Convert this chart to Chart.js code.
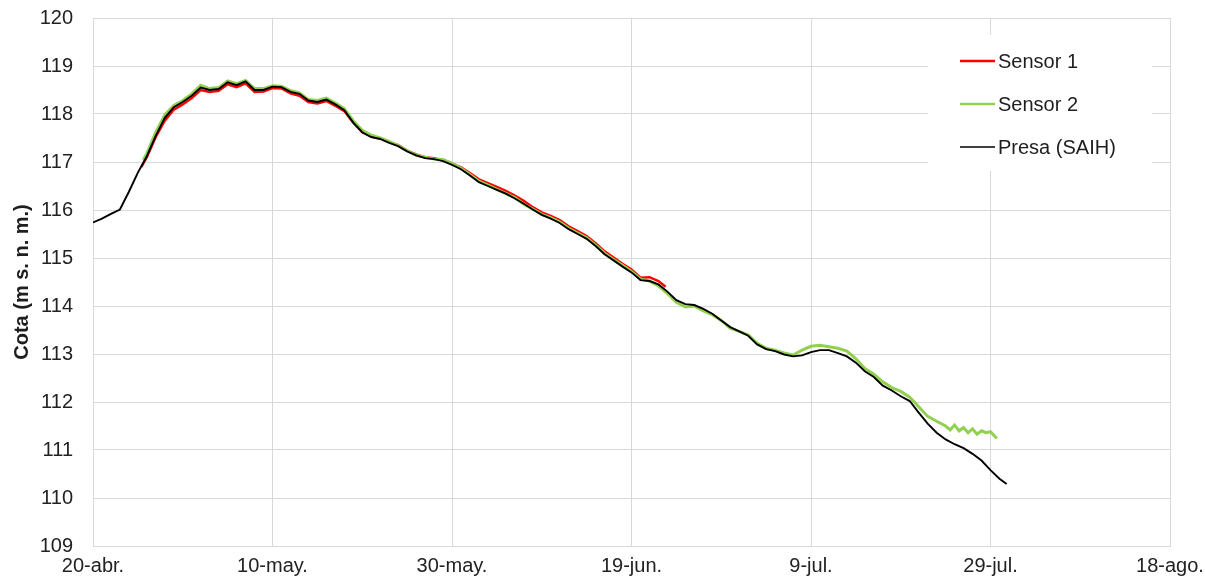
<!DOCTYPE html>
<html>
<head>
<meta charset="utf-8">
<script src="https://cdn.jsdelivr.net/npm/chart.js@4.4.0/dist/chart.umd.min.js"></script>
<style>
    html, body { margin: 0; padding: 0; background: #fff; }
    #wrap { width: 1205px; height: 584px; position: relative; }
</style>
</head>
<body>
<div id="wrap"><canvas id="cotaChart"></canvas></div>
<script>
// ===== DATA =====
// x = days since 20-abr.
const xTickDays = [0, 20, 40, 60, 80, 100, 120];
const xTickLabels = ['20-abr.', '10-may.', '30-may.', '19-jun.', '9-jul.', '29-jul.', '18-ago.'];

const presaDays = [0, 1, 2, 3, 4, 5, 6, 7, 8, 9, 10, 11, 12, 13, 14, 15, 16, 17, 18, 19,
    20, 21, 22, 23, 24, 25, 26, 27, 28, 29, 30, 31, 32, 33, 34, 35, 36, 37, 38, 39,
    40, 41, 42, 43, 44, 45, 46, 47, 48, 49, 50, 51, 52, 53, 54, 55, 56, 57, 58, 59,
    60, 61, 62, 63, 64, 65, 66, 67, 68, 69, 70, 71, 72, 73, 74, 75, 76, 77, 78, 79,
    80, 81, 82, 83, 84, 85, 86, 87, 88, 89, 90, 91, 92, 93, 94, 95, 96, 97, 98, 99,
    100, 101, 101.8];
const presaCota = [115.74, 115.82, 115.92, 116.01, 116.38, 116.78, 117.12, 117.55, 117.92, 118.14,
    118.25, 118.38, 118.55, 118.50, 118.52, 118.66, 118.60, 118.68, 118.50, 118.50,
    118.57, 118.56, 118.46, 118.42, 118.28, 118.25, 118.30, 118.20, 118.08, 117.82,
    117.62, 117.52, 117.48, 117.40, 117.33, 117.22, 117.14, 117.08, 117.06, 117.02,
    116.94, 116.85, 116.72, 116.58, 116.50, 116.42, 116.34, 116.24, 116.13, 116.01,
    115.90, 115.82, 115.73, 115.60, 115.50, 115.40, 115.25, 115.08, 114.95, 114.82,
    114.70, 114.54, 114.52, 114.45, 114.30, 114.12, 114.04, 114.02, 113.94, 113.84,
    113.70, 113.56, 113.47, 113.38, 113.20, 113.10, 113.06, 112.99, 112.95, 112.97,
    113.04, 113.08, 113.08, 113.02, 112.95, 112.82, 112.64, 112.52, 112.34, 112.24,
    112.12, 112.02, 111.78, 111.55, 111.36, 111.22, 111.12, 111.04, 110.92, 110.78,
    110.58, 110.40, 110.29];

const sensor1Days = [5.4, 6, 7, 8, 9, 10, 11, 12, 13, 14, 15, 16, 17, 18, 19,
    20, 21, 22, 23, 24, 25, 26, 27, 28, 29, 30, 31, 32, 33, 34, 35, 36, 37, 38, 39,
    40, 41, 42, 43, 44, 45, 46, 47, 48, 49, 50, 51, 52, 53, 54, 55, 56, 57, 58, 59,
    60, 61, 62, 63, 63.8];
const sensor1Cota = [116.90, 117.10, 117.52, 117.86, 118.09, 118.20, 118.33, 118.50, 118.46, 118.48,
    118.62, 118.56, 118.64, 118.46, 118.47,
    118.54, 118.53, 118.43, 118.38, 118.25, 118.22, 118.27, 118.17, 118.06, 117.82,
    117.62, 117.53, 117.49, 117.42, 117.35, 117.24, 117.16, 117.10, 117.08, 117.04,
    116.97, 116.89, 116.77, 116.64, 116.56, 116.48, 116.40, 116.30, 116.19, 116.06,
    115.95, 115.88, 115.79, 115.66, 115.56, 115.46, 115.31, 115.14, 115.01, 114.88,
    114.76, 114.59, 114.60, 114.52, 114.40];

const sensor2Days = [5.6, 6, 7, 8, 9, 10, 11, 12, 13, 14, 15, 16, 17, 18, 19,
    20, 21, 22, 23, 24, 25, 26, 27, 28, 29, 30, 31, 32, 33, 34, 35, 36, 37, 38, 39,
    40, 41, 42, 43, 44, 45, 46, 47, 48, 49, 50, 51, 52, 53, 54, 55, 56, 57, 58, 59,
    60, 61, 62, 63, 64, 65, 66, 67, 68, 69, 70, 71, 72, 73, 74, 75, 76, 77, 78, 79,
    80, 81, 82, 83, 84, 85, 86, 87, 88, 89, 90, 91, 92, 93, 94, 95,
    95.5, 96, 96.5, 97, 97.5, 98, 98.5, 99, 99.5, 100, 100.7];
const sensor2Cota = [117.04, 117.18, 117.62, 117.98, 118.18, 118.28, 118.42, 118.60, 118.53, 118.55,
    118.69, 118.63, 118.70, 118.53, 118.53,
    118.59, 118.58, 118.49, 118.44, 118.30, 118.28, 118.33, 118.23, 118.11, 117.86,
    117.66, 117.56, 117.50, 117.43, 117.34, 117.24, 117.14, 117.10, 117.06, 117.05,
    116.97, 116.87, 116.74, 116.60, 116.52, 116.43, 116.34, 116.26, 116.12, 116.02,
    115.91, 115.84, 115.75, 115.62, 115.52, 115.42, 115.27, 115.10, 114.97, 114.85,
    114.72, 114.56, 114.52, 114.42, 114.26, 114.08, 113.98, 114.00, 113.90, 113.82,
    113.70, 113.54, 113.47, 113.40, 113.22, 113.12, 113.08, 113.02, 112.98, 113.08,
    113.16, 113.18, 113.15, 113.12, 113.06, 112.90, 112.70, 112.58, 112.42, 112.30,
    112.22, 112.10, 111.90, 111.70, 111.60, 111.50,
    111.42, 111.52, 111.40, 111.47, 111.36, 111.44, 111.33, 111.40, 111.36, 111.38, 111.24];

function toPoints(days, values) {
    return days.map((d, i) => ({ x: d, y: values[i] }));
}

// ===== LEGEND INSIDE PLOT =====
const insideLegend = {
    id: 'insideLegend',
    afterDatasetsDraw(chart) {
        const { ctx, chartArea } = chart;
        const right = chartArea.right;
        const top = chartArea.top;
        ctx.save();
        ctx.fillStyle = '#ffffff';
        ctx.fillRect(right - 242, top + 17, 224, 136);
        const rows = [
            { label: 'Sensor 1', color: '#ff0000', width: 2.5 },
            { label: 'Sensor 2', color: '#92d050', width: 2.5 },
            { label: 'Presa (SAIH)', color: '#000000', width: 1.5 }
        ];
        ctx.font = '20px "Liberation Sans", Arial, sans-serif';
        ctx.textBaseline = 'middle';
        ctx.textAlign = 'left';
        rows.forEach((r, i) => {
            const y = top + 43 + i * 43;
            ctx.strokeStyle = r.color;
            ctx.lineWidth = r.width;
            ctx.beginPath();
            ctx.moveTo(right - 210, y);
            ctx.lineTo(right - 175, y);
            ctx.stroke();
            ctx.fillStyle = '#1e1e1e';
            ctx.fillText(r.label, right - 172, y + 1);
        });
        ctx.restore();
    }
};

// ===== CHART =====
const tickFont = { size: 20, family: '"Liberation Sans", Arial, sans-serif' };
const gridColor = '#d9d9d9';

new Chart(document.getElementById('cotaChart'), {
    type: 'line',
    data: {
        datasets: [
            {
                label: 'Sensor 1',
                data: toPoints(sensor1Days, sensor1Cota),
                borderColor: '#ff0000',
                borderWidth: 2.4,
                pointRadius: 0,
                tension: 0,
                order: 3
            },
            {
                label: 'Sensor 2',
                data: toPoints(sensor2Days, sensor2Cota),
                borderColor: '#92d050',
                borderWidth: 3,
                pointRadius: 0,
                tension: 0,
                order: 2
            },
            {
                label: 'Presa (SAIH)',
                data: toPoints(presaDays, presaCota),
                borderColor: '#000000',
                borderWidth: 1.9,
                pointRadius: 0,
                tension: 0,
                order: 1
            }
        ]
    },
    options: {
        responsive: true,
        maintainAspectRatio: false,
        animation: false,
        layout: { padding: { top: 18, right: 35, left: 0, bottom: 0 } },
        plugins: {
            legend: { display: false },
            tooltip: { enabled: false }
        },
        scales: {
            x: {
                type: 'linear',
                min: 0,
                max: 120,
                afterBuildTicks(scale) {
                    scale.ticks = xTickDays.map(v => ({ value: v }));
                },
                afterFit(scale) {
                    scale.height = 38;
                    scale.paddingLeft = 0;
                    scale.paddingRight = 0;
                },
                grid: { color: gridColor, drawTicks: false },
                border: { color: gridColor },
                ticks: {
                    color: '#222',
                    font: tickFont,
                    padding: 8,
                    maxRotation: 0,
                    autoSkip: false,
                    callback: function(value) {
                        const i = xTickDays.indexOf(value);
                        return i >= 0 ? xTickLabels[i] : '';
                    }
                }
            },
            y: {
                min: 109,
                max: 120,
                afterFit(scale) {
                    scale.width = 93;
                    scale.paddingTop = 0;
                    scale.paddingBottom = 0;
                },
                grid: { color: gridColor, drawTicks: false },
                border: { color: gridColor },
                ticks: {
                    stepSize: 1,
                    color: '#222',
                    font: tickFont,
                    padding: 20
                },
                title: {
                    display: true,
                    text: 'Cota (m s. n. m.)',
                    color: '#1e1e1e',
                    font: { size: 20, weight: 'bold', family: '"Liberation Sans", Arial, sans-serif' },
                    padding: { top: 10, bottom: 0 }
                }
            }
        }
    },
    plugins: [insideLegend]
});
</script>
</body>
</html>
